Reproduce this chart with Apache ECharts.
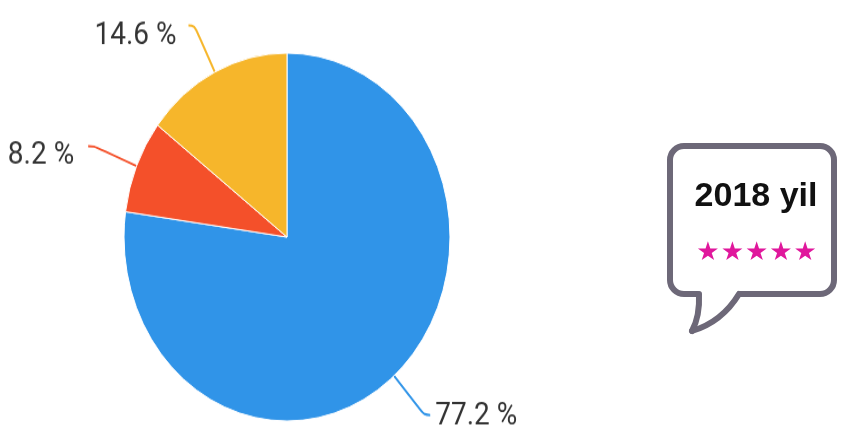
<!DOCTYPE html>
<html>
<head>
<meta charset="utf-8">
<script src="https://cdn.jsdelivr.net/npm/echarts@6/dist/echarts.min.js"></script>
<style>
  html, body { margin: 0; padding: 0; background: #ffffff; }
  #wrap { position: relative; width: 842px; height: 442px; overflow: hidden; }
  #pie { position: absolute; left: 0; top: 0; width: 842px; height: 391.6px;
         transform: scaleY(1.1288); transform-origin: 0 0; }
  #bubble { position: absolute; left: 0; top: 0; width: 842px; height: 442px; }
</style>
</head>
<body>
<div id="wrap">
  <div id="pie"></div>
  <div id="bubble"></div>
</div>
<script>
// ---- data ----
const categories = ['Segment 1', 'Segment 2', 'Segment 3'];
const values = [77.2, 8.2, 14.6];
const colors = ['#3094e8', '#f4502a', '#f6b62b'];
const bubbleTitle = '2018 yil';
const starCount = 5;

const labelOffsets = [[-4, 1], [-5, 9], [-3, 9]];

const pieChart = echarts.init(document.getElementById('pie'), null, { renderer: 'canvas' });
pieChart.setOption({
  backgroundColor: 'transparent',
  animation: false,
  series: [{
    type: 'pie',
    center: [287, 210],
    radius: 163,
    startAngle: 90,
    clockwise: true,
    avoidLabelOverlap: false,
    data: categories.map((c, i) => ({
      name: c,
      value: values[i],
      itemStyle: { color: colors[i] },
      label: { offset: labelOffsets[i] },
      labelLine: { lineStyle: { color: colors[i] } }
    })),
    itemStyle: { borderColor: '#ffffff', borderWidth: 1 },
    label: {
      show: true,
      position: 'outside',
      formatter: p => p.value + ' %',
      fontFamily: 'Roboto',
      fontSize: 28,
      color: '#333333',
      distanceToLabelLine: 9
    },
    labelLine: {
      show: true,
      length: 46,
      length2: 6,
      smooth: 0.4,
      lineStyle: { width: 2 }
    },
    emphasis: { disabled: true }
  }]
});

const bubbleChart = echarts.init(document.getElementById('bubble'), null, { renderer: 'canvas' });
const stroke = '#6d6878';
const stars = [];
for (let i = 0; i < starCount; i++) {
  stars.push({
    type: 'text',
    x: 708 + i * 24.3,
    y: 253,
    style: {
      text: '★',
      fill: '#e0179c',
      font: '26px "DejaVu Sans"',
      textAlign: 'center',
      textVerticalAlign: 'middle'
    }
  });
}
bubbleChart.setOption({
  backgroundColor: 'transparent',
  animation: false,
  graphic: [
    {
      type: 'rect',
      shape: { x: 670, y: 146, width: 164, height: 148, r: 14 },
      style: { fill: '#ffffff', stroke: stroke, lineWidth: 6 }
    },
    {
      type: 'polygon',
      shape: { points: [[699, 289], [739, 289], [722, 318], [694, 330]] },
      style: { fill: '#ffffff' }
    },
    {
      type: 'bezierCurve',
      shape: { x1: 699, y1: 294, x2: 692, y2: 331, cpx1: 700, cpy1: 316 },
      style: { stroke: stroke, lineWidth: 6, fill: null, lineCap: 'round' }
    },
    {
      type: 'bezierCurve',
      shape: { x1: 739, y1: 294, x2: 692, y2: 331, cpx1: 722, cpy1: 322 },
      style: { stroke: stroke, lineWidth: 6, fill: null, lineCap: 'round' }
    },
    {
      type: 'text',
      x: 756,
      y: 197,
      style: {
        text: bubbleTitle,
        fill: '#111111',
        font: 'bold 34px "Liberation Sans"',
        textAlign: 'center',
        textVerticalAlign: 'middle'
      }
    }
  ].concat(stars)
});
</script>
</body>
</html>
